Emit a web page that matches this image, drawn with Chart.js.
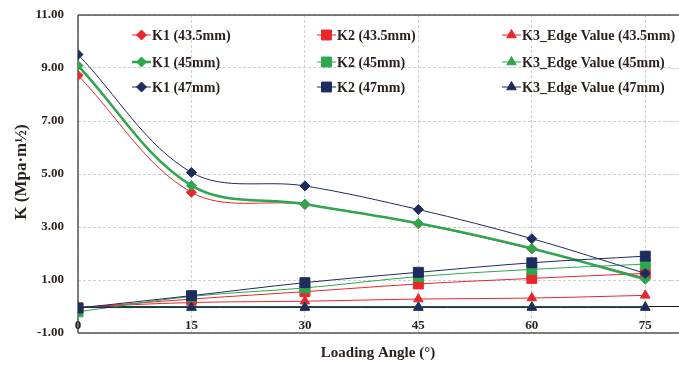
<!DOCTYPE html>
<html>
<head>
<meta charset="utf-8">
<script src="https://cdn.jsdelivr.net/npm/chart.js@4.4.1/dist/chart.umd.min.js"></script>
<style>
  html, body { margin: 0; padding: 0; background: #fff; }
  #wrap { width: 679px; height: 365px; position: relative; }
</style>
</head>
<body>
<div id="wrap"><canvas id="chart"></canvas></div>
<script>
const angles = [0, 15, 30, 45, 60, 75];
const yTicks = [-1, 1, 3, 5, 7, 9, 11];

const k1_435 = [8.72, 4.31, 3.85, 3.12, 2.17, 1.08];
const k2_435 = [-0.05, 0.28, 0.56, 0.85, 1.06, 1.25];
const k3_435 = [-0.02, 0.15, 0.2, 0.28, 0.32, 0.42];

const k1_45 = [9.09, 4.56, 3.86, 3.14, 2.19, 1.03];
const k2_45 = [-0.2, 0.38, 0.7, 1.13, 1.4, 1.6];
const k3_45 = [-0.03, -0.02, -0.02, -0.02, -0.02, -0.02];

const k1_47 = [9.51, 5.06, 4.55, 3.66, 2.56, 1.25];
const k2_47 = [-0.06, 0.41, 0.9, 1.29, 1.65, 1.9];
const k3_47 = [-0.04, -0.04, -0.04, -0.04, -0.04, -0.04];

const labels = [
  "K1 (43.5mm)", "K2 (43.5mm)", "K3_Edge Value (43.5mm)",
  "K1 (45mm)", "K2 (45mm)", "K3_Edge Value (45mm)",
  "K1 (47mm)", "K2 (47mm)", "K3_Edge Value (47mm)"
];

const RED = "#e8262c";
const GREEN = "#2ea64e";
const NAVY = "#1e2b5e";
const TEXT = "#2a1f1a";
const SERIF = "'Liberation Serif', 'DejaVu Serif', serif";

function series(label, values, color, style, r, width, order) {
  return {
    label,
    data: angles.map((a, i) => ({ x: a, y: values[i] })),
    borderColor: color,
    backgroundColor: color,
    pointBackgroundColor: color,
    pointBorderColor: color,
    borderWidth: width,
    pointStyle: style,
    pointRadius: r,
    pointBorderWidth: 1,
    tension: 0.35,
    order
  };
}

const datasets = [
  series(labels[0], k1_435, RED, "rectRot", 5, 1, 2),
  series(labels[1], k2_435, RED, "rect", 7, 1, 2),
  series(labels[2], k3_435, RED, "triangle", 5.5, 1, 2),
  series(labels[3], k1_45, GREEN, "rectRot", 5, 2.5, 1),
  series(labels[4], k2_45, GREEN, "rect", 7, 1, 1),
  series(labels[5], k3_45, GREEN, "triangle", 5.5, 1, 1),
  series(labels[6], k1_47, NAVY, "rectRot", 5, 1, 0),
  series(labels[7], k2_47, NAVY, "rect", 7, 1, 0),
  series(labels[8], k3_47, NAVY, "triangle", 5.5, 1, 0)
];

const decor = {
  id: "decor",
  beforeDatasetsDraw(chart) {
    const { ctx, chartArea: a, scales: { x, y } } = chart;
    const right = chart.width;
    ctx.save();
    // faint grid continuation to the canvas edge
    ctx.strokeStyle = "#cfcfcf";
    ctx.lineWidth = 1;
    ctx.setLineDash([3, 2]);
    ctx.beginPath();
    yTicks.slice(1, -1).forEach((v) => {
      const py = Math.round(y.getPixelForValue(v)) + 0.5;
      ctx.moveTo(a.right, py); ctx.lineTo(right, py);
    });
    ctx.stroke();
    ctx.setLineDash([]);
    // axes and frame
    ctx.strokeStyle = "#555";
    ctx.lineWidth = 1.5;
    ctx.beginPath();
    ctx.moveTo(a.left, a.top); ctx.lineTo(a.left, a.bottom);
    ctx.moveTo(a.left, a.top); ctx.lineTo(right, a.top);
    ctx.moveTo(a.left, a.bottom); ctx.lineTo(right, a.bottom);
    ctx.stroke();
    // zero line
    const y0 = y.getPixelForValue(0);
    ctx.strokeStyle = "#111";
    ctx.lineWidth = 1.2;
    ctx.beginPath();
    ctx.moveTo(a.left, y0); ctx.lineTo(right, y0);
    ctx.stroke();
    ctx.restore();
  },
  afterDraw(chart) {
    const { ctx, chartArea: a, scales: { x, y } } = chart;
    ctx.save();
    ctx.fillStyle = TEXT;
    // y tick labels
    ctx.font = "bold 13px " + SERIF;
    ctx.textAlign = "right";
    ctx.textBaseline = "middle";
    yTicks.forEach((v) => ctx.fillText(v.toFixed(2), a.left - 14, y.getPixelForValue(v)));
    // x tick labels
    ctx.textAlign = "center";
    angles.forEach((v) => ctx.fillText(String(v), x.getPixelForValue(v), a.bottom - 7));
    // axis titles
    ctx.font = "bold 15px " + SERIF;
    ctx.fillText("Loading Angle (°)", 378, 353);
    ctx.save();
    ctx.translate(22, 172);
    ctx.rotate(-Math.PI / 2);
    ctx.font = "bold 17px " + SERIF;
    ctx.fillText("K (Mpa·m½)", 0, 0);
    ctx.restore();
    // legend
    const cols = [132, 317, 502];
    const rows = [35, 62, 87];
    ctx.textAlign = "left";
    ctx.font = "bold 14px " + SERIF;
    chart.data.datasets.forEach((ds, i) => {
      const cx = cols[i % 3];
      const cy = rows[Math.floor(i / 3)];
      ctx.strokeStyle = ds.borderColor;
      ctx.lineWidth = ds.borderWidth;
      ctx.beginPath();
      ctx.moveTo(cx, cy); ctx.lineTo(cx + 19, cy);
      ctx.stroke();
      ctx.fillStyle = ds.borderColor;
      ctx.strokeStyle = ds.borderColor;
      ctx.lineWidth = 1;
      Chart.helpers.drawPoint(ctx, { pointStyle: ds.pointStyle, radius: ds.pointRadius, rotation: 0, borderWidth: 1 }, cx + 9.5, cy);
      ctx.fillStyle = TEXT;
      ctx.fillText(ds.label, cx + 20, cy + 1);
    });
    ctx.restore();
  }
};

new Chart(document.getElementById("chart"), {
  type: "line",
  data: { datasets },
  options: {
    responsive: true,
    maintainAspectRatio: false,
    animation: false,
    layout: { padding: { left: 78, top: 15, right: 0, bottom: 32 } },
    plugins: { legend: { display: false }, tooltip: { enabled: false } },
    scales: {
      x: {
        type: "linear",
        min: 0,
        max: 78.4,
        afterBuildTicks: (s) => { s.ticks = angles.map((v) => ({ value: v })); },
        ticks: { display: false },
        grid: { color: "#cfcfcf", drawTicks: false, lineWidth: 1 },
        border: { display: false, dash: [3, 2] }
      },
      y: {
        min: -1,
        max: 11,
        afterBuildTicks: (s) => { s.ticks = yTicks.map((v) => ({ value: v })); },
        ticks: { display: false },
        grid: { color: "#cfcfcf", drawTicks: false, lineWidth: 1 },
        border: { display: false, dash: [3, 2] }
      }
    }
  },
  plugins: [decor]
});
</script>
</body>
</html>
